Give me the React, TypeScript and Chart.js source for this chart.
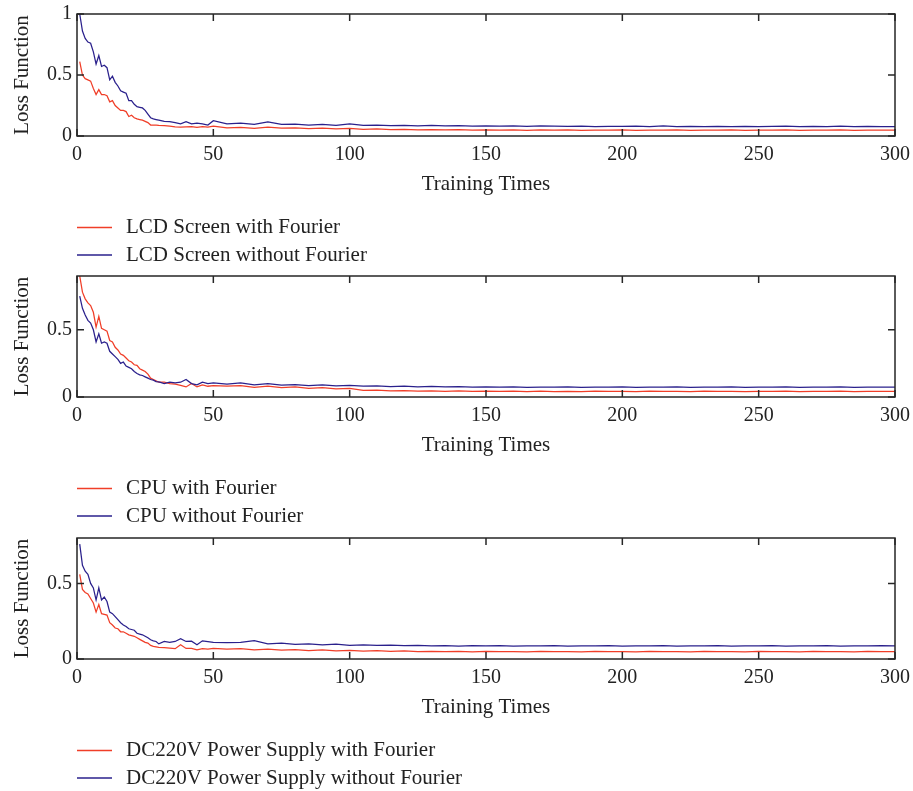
import { useEffect, useRef } from "react";
import { Chart, registerables } from "chart.js";

Chart.register(...registerables);

const TRAINING_TIMES = [
  1, 2, 3, 4, 5, 6, 7, 8, 9, 10, 11, 12, 13, 14, 15, 16, 17, 18, 19, 20,
  21, 22, 23, 24, 25, 26, 27, 28, 29, 30,
  32, 34, 36, 38, 40, 42, 44, 46, 48, 50,
  55, 60, 65, 70, 75, 80, 85, 90, 95, 100, 105, 110, 115, 120, 125, 130, 135, 140, 145, 150,
  155, 160, 165, 170, 175, 180, 185, 190, 195, 200, 205, 210, 215, 220, 225, 230, 235, 240, 245, 250,
  255, 260, 265, 270, 275, 280, 285, 290, 295, 300,
];

const X_TICKS = [0, 50, 100, 150, 200, 250, 300];

const LCD_WITH = [
  0.61, 0.5, 0.47, 0.46, 0.45, 0.39, 0.34, 0.38, 0.34, 0.34,
  0.33, 0.28, 0.29, 0.25, 0.23, 0.21, 0.21, 0.2, 0.16, 0.17,
  0.15, 0.14, 0.135, 0.13, 0.12, 0.11, 0.09, 0.09, 0.09, 0.088,
  0.085, 0.08, 0.075, 0.072, 0.075, 0.077, 0.07, 0.076, 0.072, 0.08,
  0.066, 0.07, 0.062, 0.072, 0.064, 0.066, 0.06, 0.064, 0.058, 0.062,
  0.055, 0.058, 0.052, 0.055, 0.05, 0.053, 0.05, 0.052, 0.048, 0.051,
  0.049, 0.05, 0.047, 0.05, 0.048, 0.05, 0.047, 0.049, 0.048, 0.05,
  0.047, 0.049, 0.048, 0.05, 0.046, 0.049, 0.048, 0.05, 0.047, 0.049,
  0.048, 0.05, 0.047, 0.049, 0.048, 0.05, 0.047, 0.049, 0.048, 0.049,
];
const LCD_WITHOUT = [
  1.0, 0.86, 0.8, 0.77, 0.76, 0.69, 0.59, 0.66, 0.57, 0.58,
  0.56, 0.46, 0.49, 0.44, 0.41, 0.37, 0.36, 0.35, 0.29, 0.29,
  0.26, 0.24, 0.235, 0.23, 0.21, 0.18, 0.15, 0.14, 0.135, 0.13,
  0.12, 0.117, 0.11, 0.1, 0.117, 0.1, 0.105, 0.1, 0.09, 0.125,
  0.1, 0.105, 0.095, 0.115, 0.095, 0.098, 0.09, 0.095, 0.088, 0.1,
  0.088, 0.09, 0.085, 0.088, 0.083, 0.087, 0.082, 0.085, 0.08, 0.084,
  0.08, 0.082, 0.079, 0.082, 0.08, 0.078, 0.08, 0.077, 0.079, 0.078,
  0.08, 0.077, 0.083, 0.077, 0.079, 0.076, 0.078, 0.077, 0.079, 0.076,
  0.078, 0.08, 0.076, 0.078, 0.077, 0.081, 0.077, 0.078, 0.076, 0.077,
];

const CPU_WITH = [
  0.9, 0.78, 0.73, 0.7, 0.68, 0.63, 0.52, 0.6, 0.51, 0.5,
  0.49, 0.42, 0.41, 0.37, 0.35, 0.32, 0.31, 0.29, 0.27, 0.26,
  0.24, 0.235, 0.21, 0.2, 0.19, 0.17, 0.14, 0.13, 0.12, 0.11,
  0.11, 0.1, 0.095, 0.087, 0.075, 0.1, 0.075, 0.09, 0.08, 0.085,
  0.08, 0.085, 0.072, 0.08, 0.07, 0.075, 0.065, 0.07, 0.06, 0.065,
  0.05, 0.052, 0.045, 0.048, 0.043, 0.046, 0.042, 0.045, 0.041, 0.044,
  0.041, 0.043, 0.04, 0.043, 0.04, 0.042, 0.04, 0.043, 0.041, 0.042,
  0.04, 0.043, 0.041, 0.042, 0.04, 0.043, 0.041, 0.042, 0.04, 0.042,
  0.041, 0.043, 0.04, 0.042, 0.041, 0.043, 0.04, 0.042, 0.041, 0.042,
];
const CPU_WITHOUT = [
  0.75, 0.66, 0.61, 0.57, 0.55, 0.5, 0.41, 0.47, 0.4, 0.41,
  0.4, 0.34, 0.32, 0.3, 0.28, 0.25, 0.26, 0.23, 0.22, 0.21,
  0.19, 0.175, 0.165, 0.16, 0.15, 0.14, 0.13, 0.125, 0.115, 0.112,
  0.1, 0.11, 0.105, 0.11, 0.13, 0.1, 0.09, 0.11, 0.1, 0.105,
  0.095, 0.105, 0.09, 0.1, 0.088, 0.092, 0.085, 0.09, 0.083, 0.086,
  0.08, 0.082, 0.078, 0.08, 0.076, 0.079, 0.075, 0.078, 0.074, 0.076,
  0.073, 0.075, 0.072, 0.074, 0.073, 0.075, 0.072, 0.074, 0.073, 0.075,
  0.072, 0.074, 0.073, 0.075, 0.072, 0.074, 0.073, 0.075, 0.072, 0.074,
  0.073, 0.075, 0.072, 0.074, 0.073, 0.075, 0.072, 0.074, 0.073, 0.074,
];

const DC_WITH = [
  0.56, 0.46, 0.44, 0.43, 0.4, 0.37, 0.31, 0.36, 0.3, 0.295,
  0.29, 0.24, 0.225, 0.205, 0.2, 0.18, 0.18, 0.17, 0.16, 0.155,
  0.15, 0.14, 0.13, 0.12, 0.11, 0.105, 0.09, 0.083, 0.08, 0.077,
  0.075, 0.072, 0.068, 0.094, 0.07, 0.07, 0.061, 0.068, 0.065, 0.07,
  0.066, 0.068, 0.06, 0.065, 0.058, 0.062, 0.056, 0.06, 0.054, 0.057,
  0.052, 0.055, 0.05, 0.053, 0.049, 0.051, 0.048, 0.05, 0.047, 0.05,
  0.048, 0.049, 0.047, 0.05, 0.048, 0.049, 0.047, 0.05, 0.048, 0.049,
  0.047, 0.05, 0.048, 0.049, 0.047, 0.05, 0.048, 0.049, 0.047, 0.05,
  0.048, 0.049, 0.047, 0.05, 0.048, 0.049, 0.047, 0.05, 0.048, 0.049,
];
const DC_WITHOUT = [
  0.76, 0.62, 0.58, 0.56, 0.5, 0.47, 0.39, 0.47, 0.39, 0.41,
  0.38, 0.31, 0.3, 0.28, 0.26, 0.24, 0.225, 0.215, 0.2, 0.195,
  0.19, 0.17, 0.165, 0.16, 0.15, 0.14, 0.127, 0.12, 0.116, 0.1,
  0.116, 0.11, 0.116, 0.134, 0.116, 0.118, 0.094, 0.12, 0.115, 0.11,
  0.108, 0.11, 0.122, 0.1, 0.105, 0.097, 0.1, 0.094, 0.098, 0.09,
  0.094, 0.09, 0.092, 0.088, 0.09, 0.086, 0.089, 0.085, 0.088, 0.086,
  0.088, 0.085, 0.087, 0.086, 0.088, 0.085, 0.087, 0.086, 0.088, 0.085,
  0.087, 0.086, 0.088, 0.085, 0.087, 0.086, 0.088, 0.085, 0.087, 0.086,
  0.088, 0.085, 0.087, 0.086, 0.088, 0.085, 0.087, 0.086, 0.088, 0.086,
];

const RED = "rgb(240, 62, 40)";
const BLUE = "rgb(42, 32, 140)";
const TEXT = "#222";
const FAMILY = "'Liberation Serif', 'DejaVu Serif', serif";
const W = 913;
const HX = 60.6;

type PanelProps = {
  height: number;
  plotTop: number;
  plotBottom: number;
  yMax: number;
  withLabel: string;
  withoutLabel: string;
  withData: number[];
  withoutData: number[];
};

const framePlugin = {
  id: "frame",
  afterDatasetsDraw(chart: any) {
    const { ctx, chartArea, scales } = chart;
    const { left, right, top, bottom } = chartArea;
    ctx.save();
    ctx.strokeStyle = "#262626";
    ctx.lineWidth = 1.5;
    ctx.strokeRect(left, top, right - left, bottom - top);
    ctx.beginPath();
    const tl = 7;
    scales.x.ticks.forEach((t: any) => {
      const px = scales.x.getPixelForValue(t.value);
      ctx.moveTo(px, bottom);
      ctx.lineTo(px, bottom - tl);
      ctx.moveTo(px, top);
      ctx.lineTo(px, top + tl);
    });
    scales.y.ticks.forEach((t: any) => {
      const py = scales.y.getPixelForValue(t.value);
      ctx.moveTo(left, py);
      ctx.lineTo(left + tl, py);
      ctx.moveTo(right, py);
      ctx.lineTo(right - tl, py);
    });
    ctx.stroke();
    ctx.restore();
  },
};

const legendPlugin = {
  id: "stackLegend",
  afterDraw(chart: any) {
    const { ctx, chartArea } = chart;
    const offsets = [91.5, 119];
    ctx.save();
    ctx.font = `21px ${FAMILY}`;
    ctx.textBaseline = "middle";
    ctx.textAlign = "left";
    chart.data.datasets.forEach((ds: any, i: number) => {
      const y = chartArea.bottom + offsets[i];
      ctx.strokeStyle = ds.borderColor;
      ctx.lineWidth = 1.3;
      ctx.beginPath();
      ctx.moveTo(chartArea.left, y);
      ctx.lineTo(chartArea.left + 35, y);
      ctx.stroke();
      ctx.fillStyle = TEXT;
      ctx.fillText(ds.label, chartArea.left + 49, y);
    });
    ctx.restore();
  },
};

function Panel(props: PanelProps) {
  const ref = useRef<HTMLCanvasElement | null>(null);
  useEffect(() => {
    if (!ref.current) return;
    const bottomPad = props.height - props.plotBottom - HX;
    const tickFont = { family: FAMILY, size: 20 };
    const titleFont = { family: FAMILY, size: 21 };
    const chart = new Chart(ref.current, {
      type: "line",
      data: {
        datasets: [
          {
            label: props.withLabel,
            data: TRAINING_TIMES.map((t, i) => ({ x: t, y: props.withData[i] })),
            borderColor: RED,
            borderWidth: 1.25,
            pointRadius: 0,
            tension: 0,
            fill: false,
            order: 1,
          },
          {
            label: props.withoutLabel,
            data: TRAINING_TIMES.map((t, i) => ({ x: t, y: props.withoutData[i] })),
            borderColor: BLUE,
            borderWidth: 1.25,
            pointRadius: 0,
            tension: 0,
            fill: false,
            order: 0,
          },
        ],
      },
      options: {
        animation: false,
        responsive: false,
        devicePixelRatio: 1,
        layout: { padding: { left: 0, right: 18, top: props.plotTop, bottom: bottomPad } },
        plugins: { legend: { display: false }, tooltip: { enabled: false } },
        scales: {
          x: {
            type: "linear",
            min: 0,
            max: 300,
            afterBuildTicks: (s: any) => {
              s.ticks = X_TICKS.map((v) => ({ value: v }));
            },
            ticks: { font: tickFont, color: TEXT, padding: 7, maxRotation: 0, autoSkip: false },
            grid: { display: false, drawTicks: false },
            border: { display: false },
            title: { display: true, text: "Training Times", font: titleFont, color: TEXT, padding: 0 },
            afterFit: (s: any) => {
              s.height = HX;
              s.paddingLeft = 0;
              s.paddingRight = 0;
            },
          },
          y: {
            type: "linear",
            min: 0,
            max: props.yMax,
            ticks: {
              stepSize: 0.5,
              includeBounds: false,
              font: tickFont,
              color: TEXT,
              padding: 5,
              callback: (v: any) => String(Number(v)),
            },
            grid: { display: false, drawTicks: false },
            border: { display: false },
            title: { display: true, text: "Loss Function", font: titleFont, color: TEXT, padding: { top: 10, bottom: 0 } },
            afterFit: (s: any) => {
              s.width = 77;
              s.paddingTop = 0;
              s.paddingBottom = 0;
            },
          },
        },
      } as any,
      plugins: [framePlugin, legendPlugin],
    });
    return () => chart.destroy();
  }, []);
  return <canvas ref={ref} width={W} height={props.height} style={{ display: "block", width: W, height: props.height }} />;
}

export default function App() {
  return (
    <div style={{ position: "absolute", left: 0, top: 0, width: W, height: 791, background: "#fff" }}>
      <Panel
        height={262}
        plotTop={14}
        plotBottom={136}
        yMax={1}
        withLabel="LCD Screen with Fourier"
        withoutLabel="LCD Screen without Fourier"
        withData={LCD_WITH}
        withoutData={LCD_WITHOUT}
      />
      <Panel
        height={262}
        plotTop={14}
        plotBottom={135}
        yMax={0.9}
        withLabel="CPU with Fourier"
        withoutLabel="CPU without Fourier"
        withData={CPU_WITH}
        withoutData={CPU_WITHOUT}
      />
      <Panel
        height={267}
        plotTop={14}
        plotBottom={135}
        yMax={0.8}
        withLabel="DC220V Power Supply with Fourier"
        withoutLabel="DC220V Power Supply without Fourier"
        withData={DC_WITH}
        withoutData={DC_WITHOUT}
      />
    </div>
  );
}
